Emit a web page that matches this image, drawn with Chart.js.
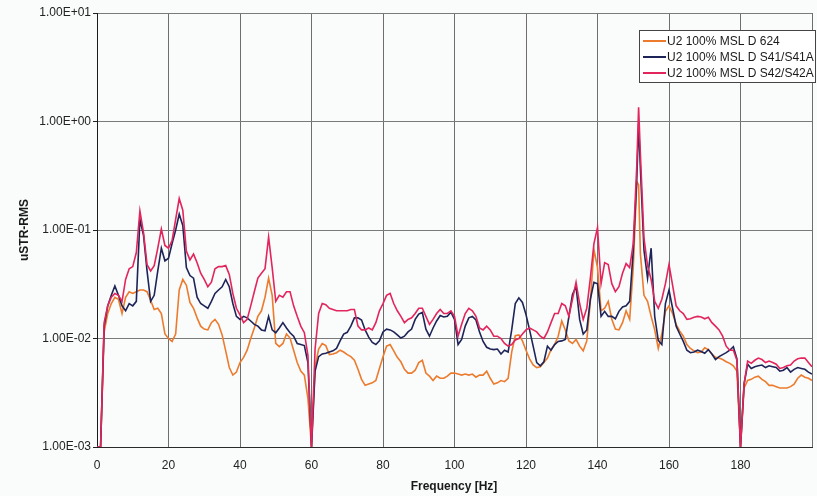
<!DOCTYPE html>
<html lang="en">
<head>
<meta charset="UTF-8">
<title>uSTR-RMS Spectrum</title>
<script src="https://cdn.jsdelivr.net/npm/chart.js"></script>
<style>
  html, body { margin: 0; padding: 0; background: #fafbfb; }
  #wrap { width: 817px; height: 496px; }
</style>
</head>
<body>
<div id="wrap"><canvas id="spectrum" width="817" height="496"></canvas></div>
<script>
// frequency bins [Hz]
const freq = [
  0, 1, 2, 3, 4, 5, 6, 7, 8, 9,
  10, 11, 12, 13, 14, 15, 16, 17, 18, 19,
  20, 21, 22, 23, 24, 25, 26, 27, 28, 29,
  30, 31, 32, 33, 34, 35, 36, 37, 38, 39,
  40, 41, 42, 43, 44, 45, 46, 47, 48, 49,
  50, 51, 52, 53, 54, 55, 56, 57, 58, 59,
  60, 61, 62, 63, 64, 65, 66, 67, 68, 69,
  70, 71, 72, 73, 74, 75, 76, 77, 78, 79,
  80, 81, 82, 83, 84, 85, 86, 87, 88, 89,
  90, 91, 92, 93, 94, 95, 96, 97, 98, 99,
  100, 101, 102, 103, 104, 105, 106, 107, 108, 109,
  110, 111, 112, 113, 114, 115, 116, 117, 118, 119,
  120, 121, 122, 123, 124, 125, 126, 127, 128, 129,
  130, 131, 132, 133, 134, 135, 136, 137, 138, 139,
  140, 141, 142, 143, 144, 145, 146, 147, 148, 149,
  150, 151, 151.5,
  152, 153, 154, 155, 156, 157, 158, 159,
  160, 161, 162, 163, 164, 165, 166, 167, 168, 169,
  170, 171, 172, 173, 174, 175, 176, 177, 178, 179,
  180, 181, 182, 183, 184, 185, 186, 187, 188, 189,
  190, 191, 192, 193, 194, 195, 196, 197, 198, 199,
  200
];

// U2 100% MSL D 624
const d624 = [
  0.001, 0.001, 0.0115, 0.017, 0.021, 0.024, 0.023, 0.017, 0.024, 0.027,
  0.026, 0.027, 0.028, 0.028, 0.027, 0.0225, 0.0185, 0.019, 0.017, 0.011,
  0.010, 0.0094, 0.011, 0.028, 0.035, 0.031, 0.0215, 0.019, 0.0155, 0.013,
  0.0122, 0.012, 0.014, 0.015, 0.0135, 0.0108, 0.0077, 0.0054, 0.0046, 0.0049,
  0.006, 0.0067, 0.0078, 0.010, 0.0125, 0.016, 0.018, 0.024, 0.036, 0.025,
  0.009, 0.0084, 0.009, 0.011, 0.0101, 0.0078, 0.006, 0.005, 0.0046, 0.0028,
  0.001, 0.0055, 0.008, 0.009, 0.0086, 0.0071, 0.0072, 0.0074, 0.0078, 0.0075,
  0.0071, 0.0068, 0.0063, 0.0052, 0.0042, 0.0037, 0.0038, 0.0039, 0.0041, 0.0053,
  0.0068, 0.0085, 0.0088, 0.0077, 0.0067, 0.0061, 0.0052, 0.0048, 0.0048, 0.0051,
  0.006, 0.0063, 0.0048, 0.0045, 0.0041, 0.0045, 0.0043, 0.0043, 0.0045, 0.0048,
  0.0048, 0.0047, 0.0046, 0.0047, 0.0046, 0.0047, 0.0044, 0.0046, 0.0046, 0.005,
  0.0043, 0.0038, 0.0039, 0.0041, 0.004, 0.0043, 0.0075, 0.0106, 0.0108, 0.0095,
  0.0078, 0.0065, 0.0057, 0.0054, 0.0055, 0.006, 0.0066, 0.0079, 0.0088, 0.0105,
  0.0145, 0.012, 0.0095, 0.009, 0.0098, 0.0085, 0.0077, 0.0095, 0.022, 0.066,
  0.045, 0.018, 0.019, 0.022, 0.015, 0.0122, 0.012, 0.014, 0.018, 0.015,
  0.045, 0.28, 0.26,
  0.06, 0.025, 0.022, 0.016, 0.012, 0.0081, 0.011, 0.0178,
  0.020, 0.017, 0.0135, 0.0117, 0.0105, 0.0088, 0.0081, 0.0077, 0.0074, 0.0075,
  0.0082, 0.0079, 0.0072, 0.0067, 0.0066, 0.0064, 0.0061, 0.0059, 0.0056, 0.005,
  0.001, 0.0035, 0.0041, 0.0042, 0.0044, 0.0045, 0.0042, 0.004, 0.0037, 0.0037,
  0.0036, 0.0035, 0.0035, 0.0035, 0.0036, 0.0038, 0.0043, 0.0046, 0.0044, 0.0043,
  0.0041
];

// U2 100% MSL D S41/S41A
const s41 = [
  0.001, 0.001, 0.013, 0.020, 0.025, 0.0305, 0.025, 0.020, 0.018, 0.021,
  0.020, 0.022, 0.125, 0.090, 0.042, 0.022, 0.025, 0.042, 0.068, 0.052,
  0.055, 0.075, 0.100, 0.140, 0.110, 0.045, 0.038, 0.036, 0.024, 0.021,
  0.020, 0.019, 0.022, 0.026, 0.028, 0.030, 0.035, 0.030, 0.021, 0.016,
  0.015, 0.016, 0.0155, 0.0145, 0.0135, 0.013, 0.012, 0.0118, 0.016, 0.012,
  0.0113, 0.0125, 0.014, 0.0125, 0.0113, 0.0105, 0.009, 0.0088, 0.0086, 0.006,
  0.001, 0.005, 0.0068, 0.0072, 0.0073, 0.0075, 0.0077, 0.0081, 0.0095, 0.011,
  0.0114, 0.013, 0.0155, 0.0155, 0.0148, 0.012, 0.0103, 0.0092, 0.0088, 0.0095,
  0.0115, 0.0122, 0.012, 0.0115, 0.0108, 0.0101, 0.0105, 0.0115, 0.0122, 0.015,
  0.0168, 0.0174, 0.0122, 0.0105, 0.0125, 0.0145, 0.0163, 0.0158, 0.016, 0.0175,
  0.015, 0.0088, 0.0098, 0.013, 0.0155, 0.016, 0.0148, 0.0115, 0.0094, 0.0083,
  0.008, 0.0079, 0.008, 0.0072, 0.0078, 0.0075, 0.012, 0.021, 0.0237, 0.0215,
  0.0166, 0.012, 0.0085, 0.006, 0.0056, 0.0061, 0.0085, 0.0078, 0.0088, 0.0094,
  0.0095, 0.0098, 0.016, 0.0254, 0.030, 0.015, 0.011, 0.012, 0.023, 0.033,
  0.032, 0.016, 0.0178, 0.016, 0.016, 0.0152, 0.0178, 0.0195, 0.020, 0.022,
  0.065, 0.30, 0.95,
  0.37, 0.065, 0.036, 0.068, 0.016, 0.0096, 0.0088, 0.021,
  0.028, 0.019, 0.013, 0.011, 0.0094, 0.0078, 0.0074, 0.0075, 0.0078, 0.0076,
  0.0073, 0.0079, 0.0072, 0.0064, 0.0068, 0.0071, 0.0074, 0.0078, 0.0084, 0.0065,
  0.001, 0.0038, 0.0058, 0.0053, 0.0055, 0.0056, 0.0057, 0.0054, 0.0056, 0.0055,
  0.0054, 0.005, 0.0051, 0.0054, 0.0049, 0.0052, 0.0054, 0.0053, 0.0052, 0.0049,
  0.0047
];

// U2 100% MSL D S42/S42A
const s42 = [
  0.001, 0.001, 0.014, 0.020, 0.024, 0.026, 0.025, 0.022, 0.035, 0.044,
  0.046, 0.062, 0.150, 0.095, 0.048, 0.042, 0.047, 0.068, 0.102, 0.072,
  0.068, 0.080, 0.125, 0.195, 0.152, 0.064, 0.053, 0.060, 0.050, 0.040,
  0.035, 0.030, 0.033, 0.044, 0.046, 0.046, 0.047, 0.039, 0.026, 0.019,
  0.0165, 0.014, 0.015, 0.020, 0.027, 0.036, 0.040, 0.044, 0.086, 0.045,
  0.022, 0.025, 0.024, 0.027, 0.027, 0.020, 0.016, 0.013, 0.0113, 0.007,
  0.001, 0.008, 0.017, 0.021, 0.0205, 0.019, 0.0185, 0.018, 0.018, 0.018,
  0.018, 0.0185, 0.0185, 0.013, 0.012, 0.012, 0.0125, 0.012, 0.014, 0.018,
  0.021, 0.025, 0.026, 0.021, 0.018, 0.016, 0.014, 0.015, 0.0155, 0.017,
  0.019, 0.019, 0.016, 0.0135, 0.015, 0.017, 0.0185, 0.017, 0.017, 0.018,
  0.016, 0.0105, 0.0135, 0.017, 0.019, 0.018, 0.016, 0.0125, 0.012, 0.013,
  0.012, 0.0105, 0.0105, 0.010, 0.009, 0.0085, 0.0088, 0.0097, 0.010, 0.011,
  0.012, 0.0125, 0.012, 0.0115, 0.0105, 0.010, 0.0115, 0.014, 0.017, 0.017,
  0.021, 0.020, 0.016, 0.023, 0.033, 0.021, 0.015, 0.019, 0.036, 0.075,
  0.105, 0.032, 0.050, 0.048, 0.032, 0.027, 0.030, 0.040, 0.049, 0.045,
  0.075, 0.40, 1.35,
  0.50, 0.084, 0.047, 0.035, 0.022, 0.019, 0.023, 0.032,
  0.048, 0.031, 0.020, 0.018, 0.017, 0.015, 0.0152, 0.0157, 0.016, 0.0158,
  0.0152, 0.0157, 0.014, 0.013, 0.012, 0.0105, 0.0085, 0.0078, 0.0078, 0.0063,
  0.001, 0.0038, 0.0062, 0.0059, 0.0063, 0.0066, 0.0064, 0.006, 0.0062, 0.006,
  0.0058, 0.0053, 0.0054, 0.0056, 0.0057, 0.0062, 0.0065, 0.0066, 0.0066, 0.006,
  0.0055
];

const seriesNames = ['U2 100% MSL D 624', 'U2 100% MSL D S41/S41A', 'U2 100% MSL D S42/S42A'];
const yTicks = [0.001, 0.01, 0.1, 1, 10];
const xTitle = 'Frequency [Hz]';
const yTitle = 'uSTR-RMS';

const FONT = '"Liberation Sans", Arial, sans-serif';

// 1.00E-03 style labels
function sci(v) {
  const e = Math.round(Math.log10(v));
  const m = v / Math.pow(10, e);
  return m.toFixed(2) + 'E' + (e < 0 ? '-' : '+') + String(Math.abs(e)).padStart(2, '0');
}

const toPoints = arr => freq.map((f, i) => ({ x: f, y: arr[i] }));

// legend box inside the plot, top right
const boxLegend = {
  id: 'boxLegend',
  afterDraw(chart) {
    const ctx = chart.ctx;
    ctx.save();
    ctx.fillStyle = '#ffffff';
    ctx.fillRect(639.5, 30.5, 176, 52);
    ctx.strokeStyle = '#444';
    ctx.lineWidth = 1;
    ctx.strokeRect(639.5, 30.5, 176, 52);
    ctx.font = '12px ' + FONT;
    ctx.textBaseline = 'middle';
    chart.data.datasets.forEach((ds, i) => {
      const y = 41 + i * 16;
      ctx.strokeStyle = ds.borderColor;
      ctx.lineWidth = 2;
      ctx.beginPath();
      ctx.moveTo(643, y);
      ctx.lineTo(666, y);
      ctx.stroke();
      ctx.fillStyle = '#1a1a1a';
      ctx.fillText(ds.label, 667, y + 0.5);
    });
    ctx.restore();
  }
};

// axis titles
const axisTitles = {
  id: 'axisTitles',
  afterDraw(chart) {
    const ctx = chart.ctx;
    ctx.save();
    ctx.fillStyle = '#1a1a1a';
    ctx.font = 'bold 12px ' + FONT;
    ctx.textAlign = 'center';
    ctx.textBaseline = 'middle';
    ctx.fillText(xTitle, 454, 487);
    ctx.translate(25, 230);
    ctx.rotate(-Math.PI / 2);
    ctx.fillText(yTitle, 0, 0);
    ctx.restore();
  }
};

new Chart(document.getElementById('spectrum'), {
  type: 'line',
  data: {
    datasets: [
      { label: seriesNames[0], data: toPoints(d624), borderColor: '#ec7b2d', order: 2 },
      { label: seriesNames[1], data: toPoints(s41), borderColor: '#1e2457', order: 1 },
      { label: seriesNames[2], data: toPoints(s42), borderColor: '#e2255d', order: 0 }
    ]
  },
  options: {
    responsive: false,
    animation: false,
    devicePixelRatio: 1,
    layout: { padding: { top: 13, right: 5, left: 0, bottom: 0 } },
    elements: {
      line: { borderWidth: 1.6, tension: 0, fill: false },
      point: { radius: 0 }
    },
    plugins: {
      legend: { display: false },
      tooltip: { enabled: false }
    },
    scales: {
      x: {
        type: 'linear',
        min: 0,
        max: 200,
        afterFit: s => { s.height = 49; s.paddingLeft = 0; s.paddingRight = 0; },
        border: { color: '#2a2a2a', width: 1 },
        grid: { color: '#6e6e6e', lineWidth: 1, drawTicks: false },
        ticks: {
          stepSize: 20,
          padding: 11,
          maxRotation: 0,
          color: '#222',
          font: { family: FONT, size: 12 },
          callback: v => (v === 200 ? '' : v)
        }
      },
      y: {
        type: 'logarithmic',
        min: 0.001,
        max: 10,
        afterFit: s => { s.width = 97; s.paddingTop = 0; s.paddingBottom = 0; },
        afterBuildTicks: s => { s.ticks = yTicks.map(v => ({ value: v })); },
        border: { color: '#1a1a1a', width: 1 },
        grid: { color: '#7a7a7a', lineWidth: 1, tickLength: 4, tickColor: '#222' },
        ticks: {
          padding: 2,
          color: '#222',
          font: { family: FONT, size: 12 },
          callback: v => sci(v)
        }
      }
    }
  },
  plugins: [boxLegend, axisTitles]
});
</script>
</body>
</html>
